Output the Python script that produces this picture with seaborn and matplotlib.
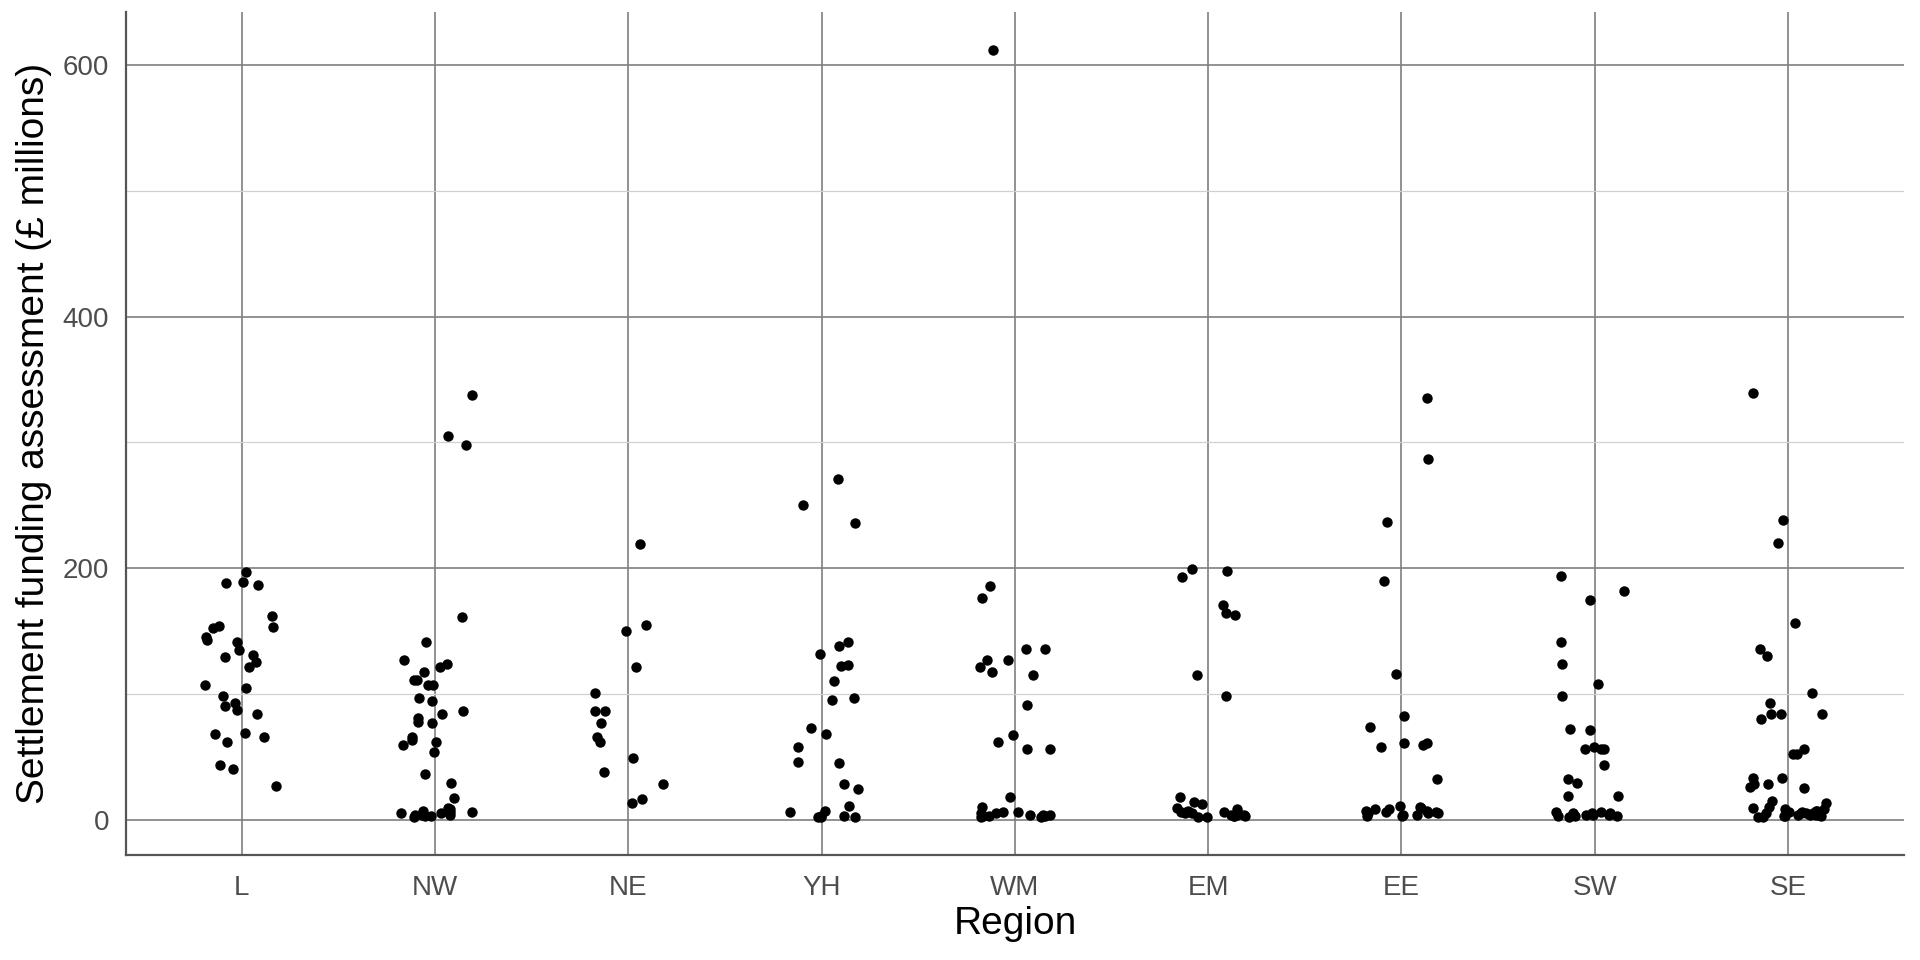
import numpy as np
import pandas as pd
import seaborn as sns
import matplotlib.pyplot as plt

regions = ["L", "NW", "NE", "YH", "WM", "EM", "EE", "SW", "SE"]

# settlement funding assessment (£ millions)
L = [197, 187, 188, 189, 162, 153, 152, 154, 143, 141, 145, 135, 131, 129, 125,
     121, 107, 105, 98, 93, 90, 84, 87, 68, 69, 66, 62, 43, 40, 27]
NW = [338, 305, 298, 161, 141, 127, 124, 121, 117, 111, 107, 107, 111, 97, 94,
      86, 84, 81, 78, 77, 66, 63, 62, 59, 54, 36, 29, 17, 8, 6, 3, 9, 7, 5, 4,
      3, 5, 4, 6, 2, 4]
NE = [219, 155, 150, 121, 101, 86, 86, 77, 66, 62, 49, 38, 28, 16, 13]
YH = [271, 250, 236, 141, 138, 132, 123, 122, 110, 97, 95, 73, 68, 58, 46, 45,
      28, 24, 11, 7, 6, 3, 2, 3, 2, 2]
WM = [612, 186, 176, 136, 136, 127, 127, 121, 117, 115, 91, 67, 62, 56, 56, 18,
      10, 5, 3, 4, 6, 2, 3, 5, 4, 3, 6, 2, 4]
EM = [199, 198, 193, 171, 163, 164, 115, 98, 18, 14, 12, 8, 6, 5, 4, 3, 2, 5,
      7, 3, 4, 6, 2, 5, 3, 4, 9, 6]
EE = [335, 287, 237, 190, 116, 82, 74, 61, 61, 59, 58, 32, 9, 8, 6, 4, 5, 7, 3,
      10, 6, 4, 8, 5, 3, 7, 5, 11]
SW = [194, 182, 175, 141, 124, 108, 98, 72, 71, 58, 56, 56, 56, 43, 32, 29, 19,
      19, 5, 3, 4, 6, 3, 5, 2, 4, 3, 6, 5, 4]
SE = [339, 238, 220, 156, 136, 130, 101, 93, 84, 84, 84, 80, 56, 52, 52, 33, 33,
      26, 28, 25, 28, 15, 13, 8, 6, 5, 4, 3, 7, 2, 5, 9, 4, 6, 3, 5, 8, 4, 2, 6,
      7, 3, 5, 10, 4]

values = [L, NW, NE, YH, WM, EM, EE, SW, SE]
df = pd.DataFrame({
    "Region": [r for r, v in zip(regions, values) for _ in v],
    "sfa": [x for v in values for x in v],
})

sns.set_style("white")
plt.rcParams["font.family"] = ["Liberation Sans", "DejaVu Sans"]

fig = plt.figure(figsize=(19.2, 9.6), dpi=100)
ax = fig.add_axes([0.0656, 0.109, 0.926, 0.8785])

np.random.seed(3)
sns.stripplot(data=df, x="Region", y="sfa", order=regions, jitter=0.2,
              color="black", size=7.5, linewidth=0, ax=ax, zorder=3)

lo, hi = df["sfa"].min(), df["sfa"].max()
pad = 0.05 * (hi - lo)
ax.set_ylim(lo - pad, hi + pad)
ax.set_xlim(-0.6, len(regions) - 0.4)

ax.set_yticks([0, 200, 400, 600])
ax.set_yticks([100, 300, 500], minor=True)
ax.grid(True, which="major", axis="both", color="#7f7f7f", linewidth=1.2)
ax.grid(True, which="minor", axis="y", color="#d0d0d0", linewidth=0.9)
ax.set_axisbelow(True)

for side in ["top", "right"]:
    ax.spines[side].set_visible(False)
for side in ["left", "bottom"]:
    ax.spines[side].set_color("#555555")
    ax.spines[side].set_linewidth(1.6)

ax.tick_params(axis="both", which="both", length=0, labelsize=20,
               labelcolor="#4d4d4d")
ax.tick_params(axis="x", pad=14)
ax.tick_params(axis="y", pad=12)

ax.set_xlabel("Region", fontsize=28, color="black", labelpad=4)
ax.set_ylabel("Settlement funding assessment (£ millions)", fontsize=28,
              color="black", labelpad=8)

fig.savefig("out.png", dpi=100)
